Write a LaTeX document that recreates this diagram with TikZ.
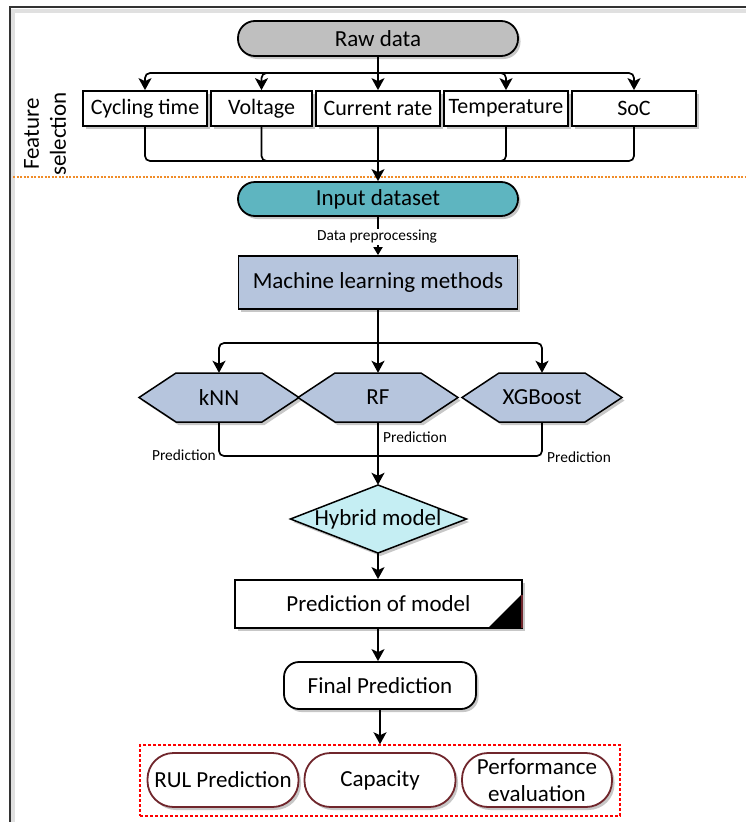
\documentclass[tikz,border=0pt]{standalone}
\usepackage{fontspec}
\setmainfont{Carlito}
\usetikzlibrary{arrows.meta,shadows,calc}
\definecolor{rawgray}{RGB}{191,191,191}
\definecolor{tealfill}{RGB}{94,181,192}
\definecolor{mlblue}{RGB}{182,197,221}
\definecolor{hybcyan}{RGB}{197,238,243}
\definecolor{orng}{RGB}{240,140,40}
\definecolor{dred}{RGB}{112,38,44}
\tikzset{
 bigtxt/.style={font=\fontsize{23}{27}\selectfont},
 feattxt/.style={font=\fontsize{22}{27}\selectfont},
 smalltxt/.style={font=\fontsize{15.4}{18}\selectfont},
 shad/.style={drop shadow={shadow xshift=2.5pt,shadow yshift=-3pt,fill=black,opacity=0.22}},
 box/.style={bigtxt, draw=black, line width=1.8pt, inner sep=0pt, shad},
 feat/.style={box, feattxt, fill=white, minimum height=35},
 hexs/.style={draw=black, line width=1.5pt, fill=mlblue, shad},
 outb/.style={bigtxt, draw=dred, line width=1.8pt, fill=white, rounded corners=26, minimum height=54, minimum width=151, inner sep=0pt, shad, align=center},
 conn/.style={line width=1.7pt, draw=black},
 arr/.style={conn, -{Stealth[length=12pt,width=13pt,inset=3pt]}},
 sarr/.style={conn, -{Triangle[length=8pt,width=9pt]}},
}
\begin{document}
\begin{tikzpicture}[x=1pt,y=-1pt]
\useasboundingbox (0,0) rectangle (746,822);
% frame
\draw[black!12, line width=4pt] (13,830) -- (13,11) -- (760,11);
\draw[black!80, line width=1.5pt] (10,830) -- (10,7) -- (760,7);
% feature selection
\node[bigtxt, rotate=90, align=center] (fs) at (45,134) {Feature\\selection};
\draw[orng, line width=1.3pt, dash pattern=on 2pt off 1.5pt] (13,177) -- (746,177);
% raw data and features
\node[box, fill=rawgray, rounded corners=17, minimum width=280, minimum height=35] (raw) at (378,38.5) {Raw data};
\node[feat, minimum width=124] (cyc) at (145,108.5) {Cycling time};
\node[feat, minimum width=101] (volt) at (261.5,108.5) {Voltage};
\node[feat, minimum width=124] (cur) at (378,108.5) {Current rate};
\node[feat, minimum width=124] (temp) at (506,108.5) {Temperature};
\node[feat, minimum width=124] (soc) at (634,108.5) {SoC};
\coordinate (s1) at (378,73);
\draw[arr] (raw.south) -- (cur.north);
\foreach \n in {cyc,volt,temp,soc} \draw[arr, rounded corners=5] (s1) -| (\n.north);
\coordinate (j1) at (378,161);
\foreach \n in {cyc,volt,temp,soc} \draw[conn, rounded corners=5] (\n.south) |- (j1);
% input
\node[box, fill=tealfill, rounded corners=17, minimum width=280, minimum height=34] (inp) at (378,199) {Input dataset};
\draw[arr] (cur.south) -- (inp.north);
\node[box, fill=mlblue, minimum width=279, minimum height=53] (ml) at (378,282.5) {Machine learning methods};
\draw[sarr] (inp.south) -- (inp.south |- ml.north);
\node[smalltxt, fill=white, inner sep=1pt] (dp) at (377,237) {Data preprocessing};
% hexagons
\foreach \cx in {219,378,542}
  \path[hexs] ({\cx-80},397.5) -- ({\cx-43},373) -- ({\cx+43},373) -- ({\cx+80},397.5) -- ({\cx+43},422) -- ({\cx-43},422) -- cycle;
\node[bigtxt, minimum width=160, minimum height=49, inner sep=0pt] (knn) at (219,397.5) {kNN};
\node[bigtxt, minimum width=160, minimum height=49, inner sep=0pt] (rf) at (378,397.5) {RF};
\node[bigtxt, minimum width=160, minimum height=49, inner sep=0pt] (xgb) at (542,397.5) {XGBoost};
\coordinate (s2) at (378,343);
\draw[arr] (ml.south) -- (rf.north);
\draw[arr, rounded corners=5] (s2) -| (knn.north);
\draw[arr, rounded corners=5] (s2) -| (xgb.north);
% hybrid
\path[draw=black, line width=1.5pt, fill=hybcyan, shad] (290.5,519) -- (378,485) -- (466.5,519) -- (378,553) -- cycle;
\node[bigtxt, minimum width=176, minimum height=68, inner sep=0pt] (hyb) at (378,519) {Hybrid model};
\coordinate (j2) at (378,456);
\draw[conn, rounded corners=5] (knn.south) |- (j2);
\draw[conn, rounded corners=5] (xgb.south) |- (j2);
\draw[arr] (rf.south) -- (hyb.north);
\node[smalltxt, anchor=east, inner sep=1pt] (pl) at (217,455) {Prediction};
\node[smalltxt, anchor=west, inner sep=1pt] (pm) at (382,437) {Prediction};
\node[smalltxt, anchor=west, inner sep=1pt] (pr) at (546,457) {Prediction};
% prediction of model
\node[box, fill=white, minimum width=287, minimum height=48] (pred) at (378.5,604) {Prediction of model};
\fill[black] (488,628) -- (522,628) -- (522,594) -- cycle;
\draw[dred, line width=1.2pt] (522,595) -- (522,628);
\draw[arr] (hyb.south) -- (hyb.south |- pred.north);
% final
\node[box, fill=white, rounded corners=15, minimum width=192, minimum height=47] (fin) at (380,685.5) {Final Prediction};
\draw[arr] (hyb.south |- pred.south) -- (hyb.south |- fin.north);
% outputs
\node[draw=red, line width=1.5pt, dash pattern=on 3pt off 2pt, minimum width=480, minimum height=71, inner sep=0pt] (out) at (380,780.5) {};
\draw[arr] (fin.south) -- (out.north);
\node[outb] (rul) at (223,780) {RUL Prediction};
\node[outb] (cap) at (380,780) {Capacity};
\node[outb, minimum width=150] (perf) at (537,780) {Performance\\evaluation};
\end{tikzpicture}
\end{document}
